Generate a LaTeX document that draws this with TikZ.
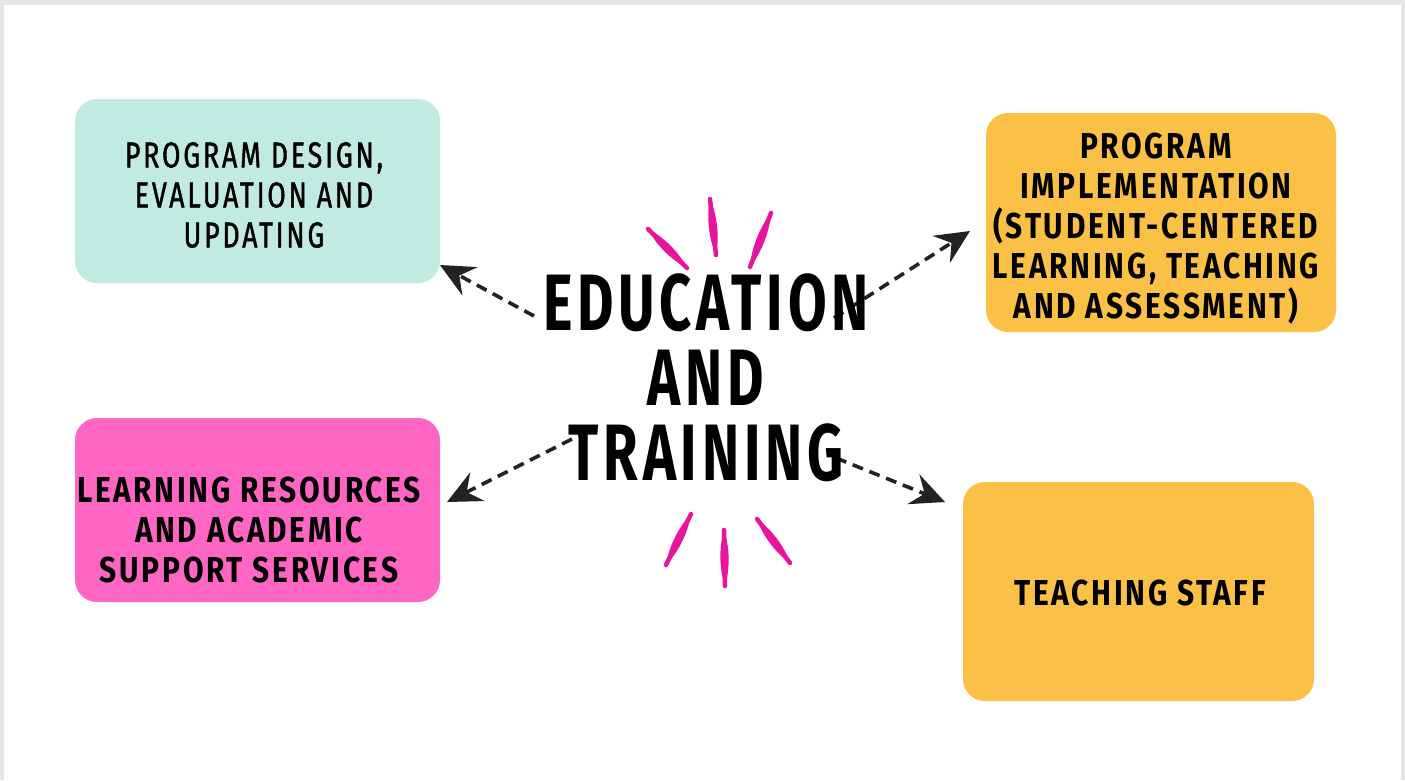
\documentclass[tikz,border=0pt]{standalone}
\usepackage{fontspec}
\usetikzlibrary{arrows.meta,calc}
\newfontfamily\headfont{Fira Sans}[FakeStretch=0.70, LetterSpace=6]
\newfontfamily\boxfont{Fira Sans}[FakeStretch=0.83, LetterSpace=7.5]
\newfontfamily\markfont{Fira Sans}[FakeStretch=0.74, LetterSpace=8, FakeBold=1.2]
\definecolor{frame}{HTML}{E6E6E6}
\definecolor{teal}{HTML}{C1EAE1}
\definecolor{gold}{HTML}{FBC146}
\definecolor{pinkbox}{HTML}{FF66C4}
\definecolor{spark}{HTML}{E8149E}
\definecolor{ink}{HTML}{222222}
\tikzset{
  box/.style={rectangle, rounded corners=22pt, inner sep=0pt, draw=none},
  boxtext/.style={align=center, inner sep=0pt, font=\boxfont\bfseries\fontsize{36}{40}\selectfont},
  flow/.style={ink, line width=3.6pt, dash pattern=on 11pt off 7pt,
    -{Stealth[length=34pt,width=32pt,inset=12pt]}},
  sparkline/.style={spark, line width=4.5pt, line cap=round},
}
\newcommand\brush[2]{%
  \fill[spark] (#1) .. controls ($(#1)!0.3!(#2)!5.5pt!90:(#2)$) and ($(#1)!0.7!(#2)!5.5pt!90:(#2)$) .. (#2)
    .. controls ($(#1)!0.7!(#2)!5.5pt!-90:(#2)$) and ($(#1)!0.3!(#2)!5.5pt!-90:(#2)$) .. (#1) -- cycle;
  \draw[sparkline] (#1) -- (#2);}
\begin{document}
\begin{tikzpicture}[x=1pt,y=-1pt]
\fill[frame] (0,0) rectangle (1405,780);
\fill[white] (4,5) rectangle (1401,780);
\useasboundingbox (0,0) rectangle (1405,780);

% boxes
\node[box, fill=teal, minimum width=365pt, minimum height=184pt] (design) at (257.5,191) {};
\node[box, fill=gold, minimum width=350pt, minimum height=219pt] (impl) at (1161,222.5) {};
\node[box, fill=pinkbox, minimum width=365pt, minimum height=184pt] (res) at (257.5,510) {};
\node[box, fill=gold, minimum width=351pt, minimum height=219pt] (staff) at (1138.5,591.5) {};

\node[boxtext, font=\markfont\fontsize{36}{40}\selectfont] (tdesign) at (254,195) {PROGRAM DESIGN,\\EVALUATION AND\\UPDATING};
\node[boxtext] (timpl) at (1156,229) {PROGRAM\\IMPLEMENTATION\\(STUDENT-CENTERED\\LEARNING, TEACHING\\AND ASSESSMENT)};
\node[boxtext, font=\boxfont\bfseries\fontsize{36}{40}\selectfont] (tres) at (249,530) {LEARNING RESOURCES\\AND ACADEMIC\\SUPPORT SERVICES};
\node[boxtext] (tstaff) at (1140,593) {TEACHING STAFF};

% arrow end points
\coordinate (s1) at (534,316);
\coordinate (e1) at (440,265);
\coordinate (s2) at (834,318);
\coordinate (e2) at (970,231);
\coordinate (s3) at (588,431);
\coordinate (e3) at (447,502);
\coordinate (s4) at (836,458);
\coordinate (e4) at (945,502);

\draw[flow] (s1) -- (e1);
\draw[flow] (s2) -- (e2);
\draw[flow] (s3) -- (e3);
\draw[flow] (s4) -- (e4);

% sparks
\coordinate (a1) at (648,229); \coordinate (b1) at (687,268);
\coordinate (a2) at (710,199); \coordinate (b2) at (716,255);
\coordinate (a3) at (771,213); \coordinate (b3) at (750,267);
\coordinate (a4) at (691,514); \coordinate (b4) at (666,565);
\coordinate (a5) at (724,530); \coordinate (b5) at (725,586);
\coordinate (a6) at (757,519); \coordinate (b6) at (790,563);
\brush{a1}{b1}
\brush{a2}{b2}
\brush{a3}{b3}
\brush{a4}{b4}
\brush{a5}{b5}
\brush{a6}{b6}

% centre title
\node[align=center, inner sep=0pt, font=\headfont\bfseries\fontsize{80}{75}\selectfont] (title) at (706,378) {EDUCATION\\AND\\TRAINING};
\end{tikzpicture}
\end{document}
